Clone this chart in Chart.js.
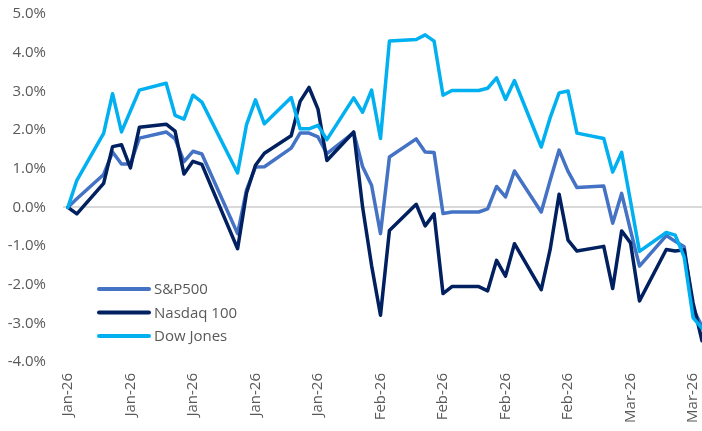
<!DOCTYPE html>
<html>
<head>
<meta charset="utf-8">
<script src="https://cdn.jsdelivr.net/npm/chart.js@4"></script>
<style>
  html, body { margin: 0; padding: 0; background: #fff; }
  canvas { display: block; }
</style>
</head>
<body>
<canvas id="chart" width="702" height="431"></canvas>
<script>
// days counted from 1 Jan 2026 (trading days only, plus the base point)
const days = [0, 1, 4, 5, 6, 7, 8, 11, 12, 13, 14, 15, 19, 20, 21, 22, 25, 26, 27, 28, 29,
  32, 33, 34, 35, 36, 39, 40, 41, 42, 43, 46, 47, 48, 49, 50, 53, 54, 55, 56, 57,
  60, 61, 62, 63, 64, 67, 68, 69, 70, 71];

const sp500 = [0, 0.22, 0.85, 1.43, 1.12, 1.12, 1.79, 1.95, 1.77, 1.18, 1.45, 1.38,
  -0.68, 0.45, 1.04, 1.05, 1.53, 1.92, 1.92, 1.82, 1.39,
  1.93, 1.05, 0.57, -0.68, 1.30, 1.77, 1.43, 1.42, -0.16, -0.12, -0.12,
  -0.04, 0.54, 0.27, 0.94, -0.12, 0.70, 1.48, 0.93, 0.51,
  0.55, -0.41, 0.36, -0.60, -1.52, -0.73, -0.88, -1.02, -2.62, -3.08];

const nasdaq = [0, -0.17, 0.62, 1.57, 1.62, 1.02, 2.07, 2.15, 1.97, 0.86, 1.19, 1.11,
  -1.07, 0.37, 1.09, 1.40, 1.85, 2.74, 3.10, 2.54, 1.21,
  1.95, 0.0, -1.50, -2.79, -0.60, 0.08, -0.48, -0.17, -2.23, -2.05, -2.05,
  -2.16, -1.37, -1.78, -0.94, -2.13, -1.09, 0.34, -0.85, -1.13,
  -1.01, -2.10, -0.61, -0.92, -2.42, -1.09, -1.13, -1.10, -2.47, -3.45];

const dowJones = [0, 0.70, 1.91, 2.94, 1.95, 2.49, 3.03, 3.21, 2.38, 2.28, 2.90, 2.72,
  0.89, 2.14, 2.78, 2.16, 2.84, 2.03, 2.03, 2.12, 1.75,
  2.83, 2.46, 3.03, 1.78, 4.30, 4.34, 4.46, 4.30, 2.90, 3.02, 3.02,
  3.08, 3.35, 2.79, 3.28, 1.56, 2.32, 2.96, 3.01, 1.92,
  1.78, 0.91, 1.42, 0.15, -1.14, -0.65, -0.72, -1.28, -2.85, -3.13];

const tickDays = [0, 7, 14, 21, 28, 35, 42, 49, 56, 63, 70];
const tickLabels = ['Jan-26', 'Jan-26', 'Jan-26', 'Jan-26', 'Jan-26',
  'Feb-26', 'Feb-26', 'Feb-26', 'Feb-26', 'Mar-26', 'Mar-26'];

const textColor = '#595959';
const fontFamily = '"Open Sans", "Noto Sans", sans-serif';

function toPoints(values) {
  return days.map((d, i) => ({ x: d, y: values[i] }));
}

// legend drawn inside the plot, lower left
const insideLegend = {
  id: 'insideLegend',
  afterDraw(chart) {
    const ctx = chart.ctx;
    const area = chart.chartArea;
    const x0 = area.left + 35;
    const y0 = area.top + 275;
    ctx.save();
    ctx.font = '15px ' + fontFamily;
    ctx.textBaseline = 'middle';
    chart.data.datasets.forEach((ds, i) => {
      const y = y0 + i * 23.5;
      ctx.strokeStyle = ds.borderColor;
      ctx.lineWidth = 4;
      ctx.lineCap = 'round';
      ctx.beginPath();
      ctx.moveTo(x0 + 1, y);
      ctx.lineTo(x0 + 51, y);
      ctx.stroke();
      ctx.fillStyle = textColor;
      ctx.fillText(ds.label, x0 + 56, y + 1);
    });
    ctx.restore();
  }
};

new Chart(document.getElementById('chart'), {
  type: 'line',
  data: {
    datasets: [
      { label: 'S&P500', data: toPoints(sp500), borderColor: '#4472C4', order: 3 },
      { label: 'Nasdaq 100', data: toPoints(nasdaq), borderColor: '#002060', order: 2 },
      { label: 'Dow Jones', data: toPoints(dowJones), borderColor: '#00B0F0', order: 1 }
    ]
  },
  options: {
    responsive: false,
    animation: false,
    devicePixelRatio: 1,
    layout: { padding: { top: 14, right: 0, bottom: 0, left: 0 } },
    elements: {
      point: { radius: 0 },
      line: { borderWidth: 3.5, tension: 0, borderJoinStyle: 'round', borderCapStyle: 'round' }
    },
    plugins: {
      legend: { display: false },
      tooltip: { enabled: false }
    },
    scales: {
      x: {
        type: 'linear',
        min: -0.55,
        max: 71,
        border: { display: false },
        grid: { display: false, drawTicks: false },
        afterBuildTicks: scale => { scale.ticks = tickDays.map(v => ({ value: v })); },
        afterFit: scale => {
          scale.height = 69;
          scale.paddingLeft = 0; scale.paddingRight = 0;
          scale.paddingTop = 0; scale.paddingBottom = 0;
        },
        ticks: {
          autoSkip: false,
          minRotation: 90,
          maxRotation: 90,
          padding: 11,
          color: textColor,
          font: { size: 15, family: fontFamily },
          callback: (value) => tickLabels[tickDays.indexOf(value)]
        }
      },
      y: {
        min: -4,
        max: 5,
        border: { display: false },
        grid: {
          drawTicks: false,
          lineWidth: 2,
          color: ctx => (ctx.tick && ctx.tick.value === 0) ? '#d9d9d9' : 'rgba(0,0,0,0)'
        },
        afterFit: scale => {
          scale.width = 63;
          scale.paddingTop = 0; scale.paddingBottom = 0;
        },
        ticks: {
          stepSize: 1,
          padding: 17,
          color: textColor,
          font: { size: 15, family: fontFamily },
          callback: v => v.toFixed(1) + '%'
        }
      }
    }
  },
  plugins: [insideLegend]
});
</script>
</body>
</html>
